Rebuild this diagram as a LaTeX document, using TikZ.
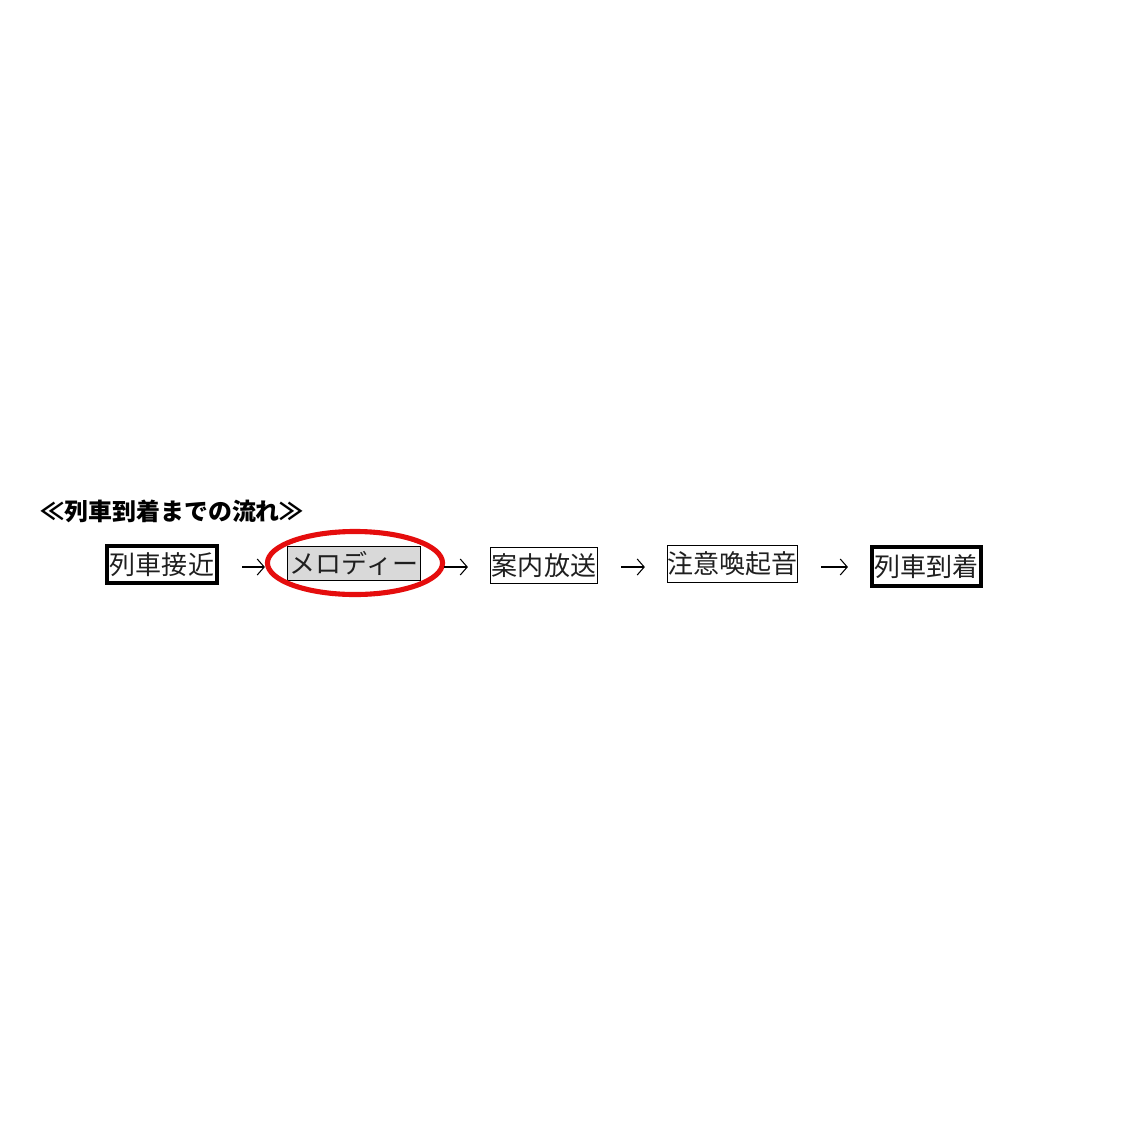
\documentclass[tikz,border=0pt]{standalone}
\usepackage{fontspec}
\setmainfont{Noto Sans CJK JP}
\usepackage{tikz}
\usetikzlibrary{arrows.meta,positioning,shapes.geometric}
\usepackage{xcolor}

\begin{document}
\begin{tikzpicture}[x=0.01cm,y=-0.01cm]

            % CANVAS
            \useasboundingbox (0,0) rectangle (1121,1121);

            % DEF COORDINATES
            \coordinate (t_flow) at (40, 511);
            \coordinate (v0_flow) at (162, 564.5);
            \coordinate (v1_flow) at (354, 563.5);
            \coordinate (v2_flow) at (544, 565.5);
            \coordinate (v3_flow) at (732.5, 564);
            \coordinate (v4_flow) at (926.5, 566.5);
            \coordinate (m_flow) at (355, 563);
            \coordinate (a_flow) at (0, 567);

            % COLORS
            \definecolor{textcolor_flow}{rgb}{ 0.12 0.12 0.12 }
            \definecolor{fillcolor_flow}{rgb}{ 0.85 0.85 0.85 }
            \definecolor{markcolor_flow}{rgb}{ 0.9 0.05 0.05 }

            % DEF STYLES
            \tikzstyle{titlestyle_flow} = [anchor=west, inner sep=0pt, font=\fontsize{6.8pt}{7pt}\selectfont\bfseries]
            \tikzstyle{boxstyle_flow} = [draw=black, rectangle, inner sep=0pt, text=textcolor_flow, font=\fontsize{7.4pt}{8pt}\selectfont]
            \tikzstyle{boxstyle_flow_thick} = [boxstyle_flow, line width=1.15pt]
            \tikzstyle{boxstyle_flow_thin} = [boxstyle_flow, line width=0.3pt]
            \tikzstyle{markstyle_flow} = [draw=markcolor_flow, ellipse, inner sep=0pt, line width=1.45pt, minimum width=1.75cm, minimum height=0.63cm]
            \tikzstyle{edgestyle_flow} = [line width=0.3pt, -{Straight Barb[length=0.07cm,width=0.16cm]}, shorten <=0.23cm, shorten >=0.22cm]

            % TITLE
            \node (title_flow) at (t_flow) [titlestyle_flow] {≪列車到着までの流れ≫};

            % POINTS
            \node (b0_flow) at (v0_flow) [boxstyle_flow_thick, minimum width=1.10cm, minimum height=0.37cm] {列車接近};
            \node (b1_flow) at (v1_flow) [boxstyle_flow_thin, fill=fillcolor_flow, minimum width=1.33cm, minimum height=0.34cm] {メロディー};
            \node (b2_flow) at (v2_flow) [boxstyle_flow_thin, minimum width=1.07cm, minimum height=0.36cm] {案内放送};
            \node (b3_flow) at (v3_flow) [boxstyle_flow_thin, minimum width=1.30cm, minimum height=0.37cm] {注意喚起音};
            \node (b4_flow) at (v4_flow) [boxstyle_flow_thick, minimum width=1.09cm, minimum height=0.39cm] {列車到着};

            % MARK
            \node (mark_flow) at (m_flow) [markstyle_flow] {};

            % EDGES
            \foreach \i/\k in {0/1,1/2,2/3,3/4} {
              \draw[edgestyle_flow] (b\i_flow.east |- a_flow) -- (b\k_flow.west |- a_flow);
            }

\end{tikzpicture}
\end{document}
